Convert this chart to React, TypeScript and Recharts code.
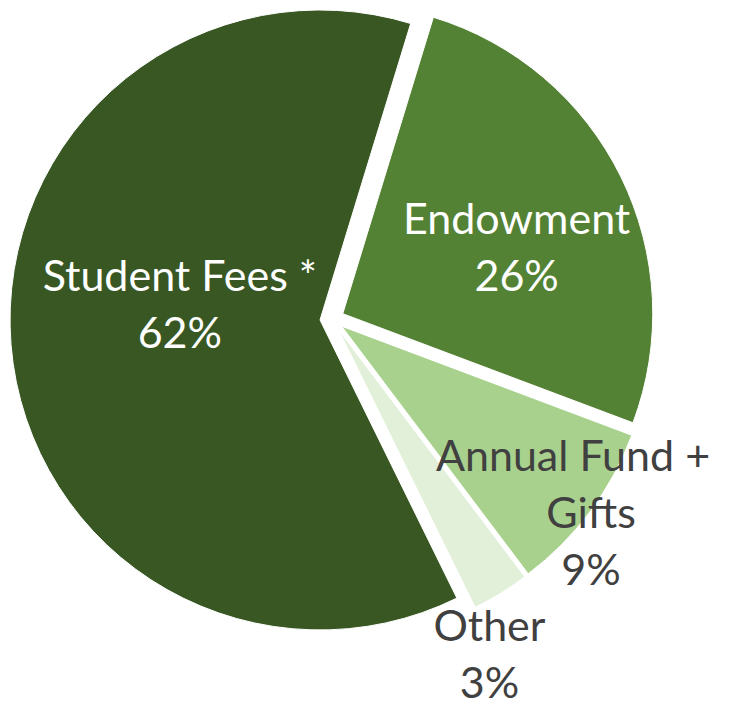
import React from "react";
import { PieChart, Pie, Cell } from "recharts";

const categories = ["Endowment", "Annual Fund + Gifts", "Other", "Student Fees *"];
const shares = [26, 9, 3, 62];
const labelLines = [
  ["Endowment", "26%"],
  ["Annual Fund +", "Gifts", "9%"],
  ["Other", "3%"],
  ["Student Fees *", "62%"],
];

const colors = ["#548235", "#A9D18E", "#E2F0D9", "#385723"];
const textColors = ["#FFFFFF", "#404040", "#404040", "#FFFFFF"];
// label placement: fraction of radius from the slice apex, angle shift from mid angle, x nudge of first line
const labelPos = [
  { r: 0.6, shift: -5.4, firstDx: 0 },
  { r: 1.006, shift: -0.1, firstDx: -18 },
  { r: 1.158, shift: -6.7, firstDx: 0 },
  { r: 0.455, shift: -10.9, firstDx: 0 },
];

const data = categories.map((name, i) => ({ name, value: shares[i] }));

const W = 741;
const H = 707;
const CX = 332;
const CY = 319;
const R = 310;
const EXPLODE = 12;
const START = 73;
const END = START - 360;
const FONT = 43;
const LINE_H = 57;
const CAP = 15;
const RAD = Math.PI / 180;

const total = shares.reduce((a, b) => a + b, 0);
const midAngles = shares.map((v, i) => {
  const before = shares.slice(0, i).reduce((a, b) => a + b, 0);
  return START - ((before + v / 2) / total) * 360;
});

const App = () => {
  return (
    <div style={{ position: "absolute", left: 0, top: 0 }}>
      <PieChart width={W} height={H} margin={{ top: 0, right: 0, bottom: 0, left: 0 }}>
        {data.map((_, k) => {
          const cx = CX + EXPLODE * Math.cos(midAngles[k] * RAD);
          const cy = CY - EXPLODE * Math.sin(midAngles[k] * RAD);
          const renderLabel = (props: any) => {
            if (props.index !== k) return null;
            const pos = labelPos[k];
            const a = (props.midAngle + pos.shift) * RAD;
            const x = props.cx + props.outerRadius * pos.r * Math.cos(a);
            const y = props.cy - props.outerRadius * pos.r * Math.sin(a);
            const lines = labelLines[k];
            return (
              <text
                key={"lbl" + k}
                x={x}
                y={y}
                textAnchor="middle"
                fill={textColors[k]}
                fontSize={FONT}
                fontFamily="Lato, 'Open Sans', sans-serif"
              >
                {lines.map((ln, j) => (
                  <tspan
                    key={j}
                    x={x + (j === 0 ? pos.firstDx : 0)}
                    y={y + (j - (lines.length - 1) / 2) * LINE_H + CAP}
                  >
                    {ln}
                  </tspan>
                ))}
              </text>
            );
          };
          return (
            <Pie
              key={k}
              data={data}
              dataKey="value"
              nameKey="name"
              cx={cx}
              cy={cy}
              outerRadius={R}
              innerRadius={0}
              startAngle={START}
              endAngle={END}
              isAnimationActive={false}
              labelLine={false}
              label={renderLabel}
            >
              {data.map((entry, i) => (
                <Cell
                  key={entry.name}
                  fill={i === k ? colors[i] : "none"}
                  stroke={i === k ? "#FFFFFF" : "none"}
                  strokeWidth={1}
                />
              ))}
            </Pie>
          );
        })}
      </PieChart>
    </div>
  );
};

export default App;
